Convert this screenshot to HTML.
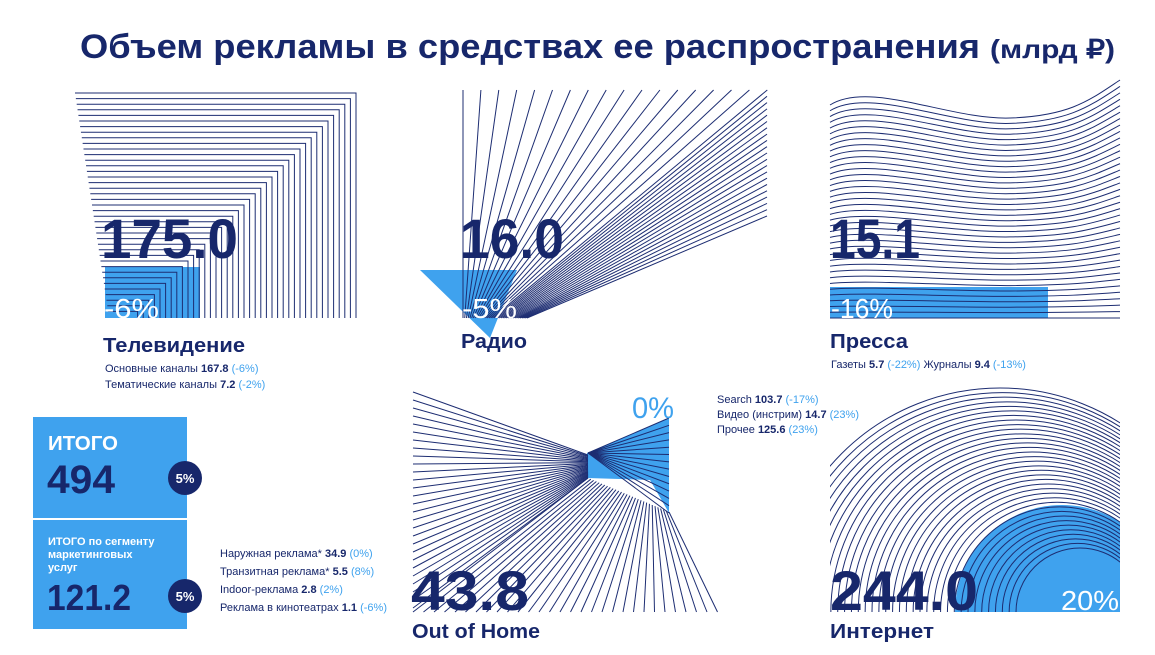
<!DOCTYPE html>
<html><head><meta charset="utf-8"><style>
html,body{margin:0;padding:0;background:#fff;width:1155px;height:655px;overflow:hidden}
svg{display:block;font-family:"Liberation Sans","Noto Sans CJK SC",sans-serif}
.n{fill:#17276b;font-weight:bold}
.s{font-size:11px;fill:#17276b}
.b{fill:#3fa2ee}
</style></head><body>
<svg id="c" width="1155" height="655" viewBox="0 0 1155 655" xmlns="http://www.w3.org/2000/svg">
<defs>
<clipPath id="ci"><rect x="830" y="380" width="290" height="232"/></clipPath>
</defs>
<g id="bg"></g>
<rect x="105" y="267" width="95" height="51" fill="#3fa2ee"/>
<rect x="830" y="287" width="218" height="31" fill="#3fa2ee"/>
<polygon points="420,270 517,270 490,338" fill="#3fa2ee"/>
<polygon points="587,453 669,418 669,513 650,480 587,478" fill="#3fa2ee"/>
<g clip-path="url(#ci)"><circle cx="1062" cy="612" r="107" fill="#3fa2ee"/></g>
<g id="ln" fill="none" stroke="#1d2d72" stroke-width="1"></g>

<text x="80" y="58" class="n" font-size="34" textLength="900" lengthAdjust="spacingAndGlyphs">Объем рекламы в средствах ее распространения</text>
<text x="990" y="58" class="n" font-size="26" textLength="125" lengthAdjust="spacingAndGlyphs">(млрд ₽)</text>

<text x="101" y="258" class="n" font-size="56" textLength="137" lengthAdjust="spacingAndGlyphs">175.0</text>
<text x="104" y="318" fill="#fff" font-size="28" textLength="55" lengthAdjust="spacingAndGlyphs">-6%</text>
<text x="103" y="352" fill="#17276b" font-size="20" font-weight="bold" textLength="142" lengthAdjust="spacingAndGlyphs">Телевидение</text>
<text x="105" y="372" class="s">Основные каналы <tspan font-weight="bold">167.8</tspan> <tspan class="b">(-6%)</tspan></text>
<text x="105" y="388" class="s">Тематические каналы <tspan font-weight="bold">7.2</tspan> <tspan class="b">(-2%)</tspan></text>

<text x="460" y="258" class="n" font-size="56" textLength="104" lengthAdjust="spacingAndGlyphs">16.0</text>
<text x="462" y="318" fill="#fff" font-size="28" textLength="55" lengthAdjust="spacingAndGlyphs">-5%</text>
<text x="461" y="348" fill="#17276b" font-size="20" font-weight="bold" textLength="66" lengthAdjust="spacingAndGlyphs">Радио</text>

<text x="830" y="258" class="n" font-size="56" textLength="90" lengthAdjust="spacingAndGlyphs">15.1</text>
<text x="831" y="318" fill="#fff" font-size="28" textLength="62" lengthAdjust="spacingAndGlyphs">-16%</text>
<text x="830" y="348" fill="#17276b" font-size="20" font-weight="bold" textLength="78" lengthAdjust="spacingAndGlyphs">Пресса</text>
<text x="831" y="368" class="s">Газеты <tspan font-weight="bold">5.7</tspan> <tspan class="b">(-22%)</tspan>  Журналы <tspan font-weight="bold">9.4</tspan> <tspan class="b">(-13%)</tspan></text>

<text x="632" y="418" fill="#3fa2ee" font-size="30" textLength="42" lengthAdjust="spacingAndGlyphs">0%</text>
<text x="411" y="610" class="n" font-size="56" textLength="118" lengthAdjust="spacingAndGlyphs">43.8</text>
<text x="412" y="638" fill="#17276b" font-size="20" font-weight="bold" textLength="128" lengthAdjust="spacingAndGlyphs">Out of Home</text>

<text x="717" y="403" class="s">Search <tspan font-weight="bold">103.7</tspan> <tspan class="b">(-17%)</tspan></text>
<text x="717" y="418" class="s">Видео (инстрим) <tspan font-weight="bold">14.7</tspan> <tspan class="b">(23%)</tspan></text>
<text x="717" y="433" class="s">Прочее <tspan font-weight="bold">125.6</tspan> <tspan class="b">(23%)</tspan></text>
<text x="830" y="610" class="n" font-size="56" textLength="148" lengthAdjust="spacingAndGlyphs">244.0</text>
<text x="1061" y="610" fill="#fff" font-size="28" textLength="58" lengthAdjust="spacingAndGlyphs">20%</text>
<text x="830" y="638" fill="#17276b" font-size="20" font-weight="bold" textLength="104" lengthAdjust="spacingAndGlyphs">Интернет</text>

<rect x="33" y="417" width="154" height="101" fill="#3fa2ee"/>
<rect x="33" y="520" width="154" height="109" fill="#3fa2ee"/>
<text x="48" y="450" fill="#fff" font-size="20" font-weight="bold" textLength="70" lengthAdjust="spacingAndGlyphs">ИТОГО</text>
<text x="47" y="493" class="n" font-size="40" textLength="68" lengthAdjust="spacingAndGlyphs">494</text>
<circle cx="185" cy="478" r="17" fill="#17276b"/>
<text x="185" y="483" fill="#fff" font-size="13" font-weight="bold" text-anchor="middle">5%</text>
<text x="48" y="545" fill="#fff" font-size="11" font-weight="bold">ИТОГО по сегменту</text>
<text x="48" y="558" fill="#fff" font-size="11" font-weight="bold">маркетинговых</text>
<text x="48" y="571" fill="#fff" font-size="11" font-weight="bold">услуг</text>
<text x="47" y="610" class="n" font-size="36" textLength="84" lengthAdjust="spacingAndGlyphs">121.2</text>
<circle cx="185" cy="596" r="17" fill="#17276b"/>
<text x="185" y="601" fill="#fff" font-size="13" font-weight="bold" text-anchor="middle">5%</text>
<text x="220" y="557" class="s">Наружная реклама*  <tspan font-weight="bold">34.9</tspan> <tspan class="b">(0%)</tspan></text>
<text x="220" y="575" class="s">Транзитная реклама*  <tspan font-weight="bold">5.5</tspan> <tspan class="b">(8%)</tspan></text>
<text x="220" y="593" class="s">Indoor-реклама  <tspan font-weight="bold">2.8</tspan> <tspan class="b">(2%)</tspan></text>
<text x="220" y="611" class="s">Реклама в кинотеатрах  <tspan font-weight="bold">1.1</tspan> <tspan class="b">(-6%)</tspan></text>
</svg>
<script>
var g=document.getElementById('ln'),s='';
function L(d){s+='<path d="'+d+'"/>';}
// TV
for(var i=0;i<40;i++){var y=93+i*5.6,r=356-i*5.6,l=75+i*0.85;if(y>314)break;L('M'+l+','+y+'H'+r+'V318');}
// Radio
var ends=[];for(var k=0;k<18;k++)ends.push([463+k*17.9,90]);for(var k=1;k<=20;k++)ends.push([767,90+k*6.3]);
for(var i=0;i<ends.length;i++){var t=i/(ends.length-1);L('M'+(463+t*64)+',318L'+ends[i][0]+','+ends[i][1]);}
// Press
function ty(u){var x=u;return 0;}
var P=[[830,105],[870,80],[950,120],[1010,118],[1070,116],[1090,100],[1120,80]];
for(var i=0;i<38;i++){var f=i/37;function Y(v){return v+(318-v)*f;}
L('M830,'+Y(105)+'C870,'+Y(80)+' 950,'+Y(120)+' 1010,'+Y(118)+'C1070,'+Y(116)+' 1090,'+Y(100)+' 1120,'+Y(80));}
// OOH
for(var k=0;k<28;k++)L('M413,'+(392+k*8)+'L588,'+(455+k*0.85));
for(var k=0;k<30;k++){var t=k/29;L('M'+(413+k*10.5)+',612L'+(588+t*81)+','+(478+t*34));}
for(var k=0;k<14;k++){var t=k/13;L('M588,'+(453-t*35*0)+'L'+(669)+','+(418+t*95));}
// Internet
s+='<g clip-path="url(#ci)">';
for(var i=0;i<36;i++){var t=i/35,cx=1000+t*80,r=224-t*160;L('M'+(cx-r)+',612A'+r+','+r+' 0 0 1 '+(cx+r)+',612');}
s+='</g>';
g.innerHTML=s;
</script>
</body></html>
